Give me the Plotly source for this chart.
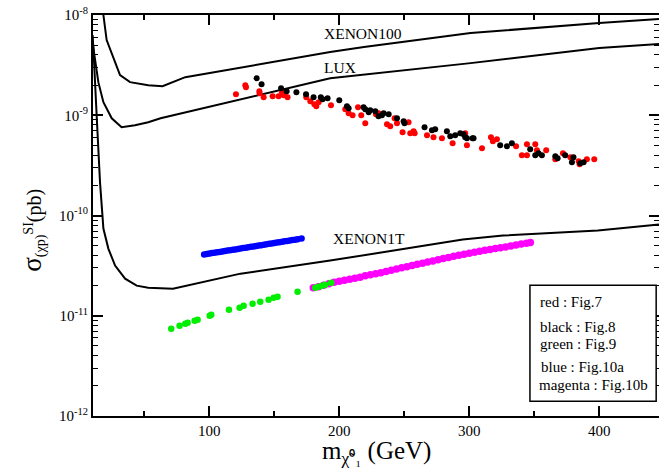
import plotly.graph_objects as go

# ---------------- data (sigma values stored as log10(pb)) ----------------
xenon100_m = [17.5, 18.5, 21.0, 31.3, 39.0, 53.0, 64.0, 81.5, 193.0, 219.0, 301.0, 400.0, 446.0]
xenon100_logs = [-7.90, -8.00, -8.25, -8.60, -8.67, -8.70, -8.71, -8.62, -8.37, -8.32, -8.18, -8.08, -8.04]

lux_m = [10.0, 10.8, 14.6, 18.5, 24.9, 32.5, 42.8, 53.0, 62.5, 193.0, 301.0, 400.0, 446.0]
lux_logs = [-8.20, -8.33, -8.67, -8.87, -9.03, -9.12, -9.10, -9.07, -9.03, -8.63, -8.48, -8.33, -8.29]

xenon1t_m = [10.0, 10.8, 13.3, 15.9, 18.5, 22.3, 27.5, 35.2, 44.1, 53.0, 72.0, 124.0, 193.0, 295.0, 326.0, 399.0, 446.0]
xenon1t_logs = [-8.20, -8.33, -9.00, -9.67, -10.13, -10.33, -10.50, -10.63, -10.70, -10.72, -10.73, -10.58, -10.45, -10.24, -10.20, -10.15, -10.09]

red_m = [120.5, 127.7, 128.2, 138.5, 138.7, 141.8, 148.7, 153.3, 155.9, 157.2, 158.0, 160.2,
         174.6, 177.7, 180.8, 182.3, 184.1, 193.6, 204.6, 207.2, 210.2, 214.4, 216.9, 220.0,
         228.2, 230.2, 236.7, 239.2, 242.6, 244.4, 248.7, 253.3, 254.6, 257.2, 258.0, 267.5,
         272.5, 279.0, 287.2, 296.9, 298.2, 309.8, 316.7, 318.2, 321.3, 336.0, 340.5, 344.4,
         344.4, 350.8, 352.1, 359.2, 366.2, 372.1, 377.8, 384.2, 384.9, 390.5, 396.2]
red_logs = [-8.79, -8.70, -8.72, -8.76, -8.78, -8.82, -8.81, -8.81, -8.77, -8.80, -8.78, -8.82,
            -8.82, -8.86, -8.89, -8.91, -8.87, -8.90, -8.94, -8.98, -9.00, -8.92, -9.00, -9.08,
            -8.99, -8.98, -9.09, -9.11, -9.03, -9.08, -9.17, -9.07, -9.18, -9.16, -9.18, -9.20,
            -9.22, -9.23, -9.28, -9.18, -9.30, -9.33, -9.22, -9.26, -9.24, -9.31, -9.40, -9.40,
            -9.29, -9.29, -9.35, -9.35, -9.44, -9.38, -9.42, -9.46, -9.49, -9.44, -9.44]

black_m = [136.4, 140.2, 155.2, 159.5, 167.0, 174.4, 180.2, 185.8, 187.2, 191.0, 200.0, 205.9,
           207.2, 218.7, 220.0, 222.6, 223.8, 227.7, 230.2, 232.8, 234.1, 238.0, 244.4, 249.5,
           250.2, 265.6, 271.3, 273.8, 282.8, 285.4, 289.2, 293.1, 295.6, 296.9, 298.2, 302.5,
           303.3, 323.8, 329.0, 332.8, 346.9, 350.8, 353.3, 355.9, 366.2, 368.0, 373.8, 380.2,
           379.0, 385.4, 388.0]
black_logs = [-8.63, -8.69, -8.73, -8.76, -8.77, -8.79, -8.82, -8.82, -8.84, -8.83, -8.85, -8.91,
              -8.93, -8.92, -8.94, -8.97, -8.95, -8.96, -9.01, -9.00, -8.98, -8.99, -9.03, -9.06,
              -9.08, -9.12, -9.15, -9.14, -9.16, -9.21, -9.20, -9.18, -9.19, -9.22, -9.23, -9.23,
              -9.23, -9.30, -9.31, -9.28, -9.34, -9.40, -9.38, -9.40, -9.41, -9.43, -9.40, -9.42,
              -9.47, -9.48, -9.47]

green_m = [70.7, 77.1, 81.5, 83.3, 88.7, 91.0, 100.3, 101.5, 115.1, 123.3, 126.4, 133.3,
           139.2, 145.6, 149.5, 152.5, 167.9, 181.5, 184.1, 186.7, 189.2, 193.8]
green_logs = [-11.13, -11.10, -11.08, -11.07, -11.05, -11.04, -11.00, -10.99, -10.94, -10.92, -10.90, -10.88,
              -10.86, -10.84, -10.82, -10.81, -10.76, -10.72, -10.71, -10.70, -10.69, -10.67]

blue_m = [96, 98, 100, 102, 104, 106, 108, 110, 112, 114, 116, 118, 120, 122, 124, 126, 128, 130,
          132, 134, 136, 138, 140, 142, 144, 146, 148, 150, 152, 154, 156, 158, 160, 162, 164, 166,
          168, 171]
blue_logs = [-10.388, -10.384, -10.380, -10.375, -10.371, -10.367, -10.363, -10.358, -10.354, -10.350,
             -10.346, -10.342, -10.338, -10.333, -10.329, -10.325, -10.321, -10.316, -10.312, -10.308,
             -10.304, -10.300, -10.296, -10.291, -10.287, -10.283, -10.279, -10.274, -10.270, -10.266,
             -10.262, -10.258, -10.254, -10.249, -10.245, -10.241, -10.237, -10.230]

magenta_m = [180, 184, 188, 192, 196, 200, 204, 208, 212, 216, 220, 224, 228, 232, 236, 240, 244,
             248, 252, 256, 260, 264, 268, 272, 276, 280, 284, 288, 292, 296, 300, 304, 308, 312,
             316, 320, 324, 328, 332, 336, 340, 344, 347]
magenta_logs = [-10.720, -10.710, -10.695, -10.680, -10.665, -10.655, -10.645, -10.635, -10.625, -10.615,
                -10.600, -10.590, -10.580, -10.570, -10.558, -10.546, -10.534, -10.522, -10.510, -10.498,
                -10.487, -10.476, -10.465, -10.453, -10.442, -10.430, -10.418, -10.407, -10.397, -10.387,
                -10.377, -10.367, -10.357, -10.347, -10.338, -10.330, -10.321, -10.313, -10.303, -10.294,
                -10.285, -10.277, -10.270]

x_tick_vals = [100, 200, 300, 400]
x_minor_vals = [50, 150, 250, 350]
y_tick_vals = [1e-12, 1e-11, 1e-10, 1e-9, 1e-8]
y_tick_text = ["10<sup>-12</sup>", "10<sup>-11</sup>", "10<sup>-10</sup>", "10<sup>-9</sup>", "10<sup>-8</sup>"]
y_minor_mantissas = [2, 3, 4, 5, 6, 7, 8, 9]

legend_lines = ["red : Fig.7", "black : Fig.8", "green : Fig.9", "blue : Fig.10a", "magenta : Fig.10b"]
curve_labels = ["XENON100", "LUX", "XENON1T"]
x_title = "m<sub>χ̃⁰₁</sub> (GeV)"
y_title = "<span style='font-size:27px'>σ</span><sub>(χp)</sub><sup>SI</sup>(pb)"


def pb(logs):
    return [10 ** v for v in logs]


FONT = "Liberation Serif, Times New Roman, serif"

fig = go.Figure()

for m, logs in [(xenon100_m, xenon100_logs), (lux_m, lux_logs), (xenon1t_m, xenon1t_logs)]:
    fig.add_trace(go.Scatter(x=m, y=pb(logs), mode="lines",
                             line=dict(color="black", width=2), showlegend=False, hoverinfo="skip"))

fig.add_trace(go.Scatter(x=blue_m, y=pb(blue_logs), mode="markers",
                         marker=dict(color="#0000ff", size=6.5), showlegend=False))
fig.add_trace(go.Scatter(x=magenta_m, y=pb(magenta_logs), mode="markers",
                         marker=dict(color="#ff00ff", size=7.5), showlegend=False))
fig.add_trace(go.Scatter(x=green_m, y=pb(green_logs), mode="markers",
                         marker=dict(color="#00ee00", size=6.5), showlegend=False))
fig.add_trace(go.Scatter(x=red_m, y=pb(red_logs), mode="markers",
                         marker=dict(color="#ff0000", size=6), showlegend=False))
fig.add_trace(go.Scatter(x=black_m, y=pb(black_logs), mode="markers",
                         marker=dict(color="black", size=6), showlegend=False))

y_minor_vals = [mnt * 10 ** e for e in range(-12, -8) for mnt in y_minor_mantissas]

fig.update_layout(
    width=659, height=468,
    margin=dict(l=93, r=0, t=15, b=52),
    paper_bgcolor="white", plot_bgcolor="white",
    font=dict(family=FONT, color="black", size=15),
    xaxis=dict(
        range=[10.5, 446], showgrid=False, zeroline=False, automargin=False,
        showline=True, linecolor="black", linewidth=2, mirror="ticks",
        ticks="inside", ticklen=10, tickwidth=1.5, tickcolor="black",
        tickmode="array", tickvals=x_tick_vals, ticktext=[str(v) for v in x_tick_vals],
        tickfont=dict(size=15, family=FONT), ticklabeloverflow="allow",
        minor=dict(tickmode="array", tickvals=x_minor_vals, ticks="inside", ticklen=5,
                   tickwidth=1.5, tickcolor="black", showgrid=False),
    ),
    yaxis=dict(
        type="log", range=[-12, -8], showgrid=False, zeroline=False, automargin=False,
        showline=True, linecolor="black", linewidth=2, mirror="ticks",
        ticks="inside", ticklen=10, tickwidth=1.5, tickcolor="black",
        tickmode="array", tickvals=y_tick_vals, ticktext=y_tick_text,
        tickfont=dict(size=15, family=FONT), ticklabeloverflow="allow",
        minor=dict(tickmode="array", tickvals=y_minor_vals, ticks="inside", ticklen=5,
                   tickwidth=1.2, tickcolor="black", showgrid=False),
    ),
)

# axis titles
fig.add_annotation(text=x_title, xref="paper", yref="paper", x=0.50, y=-0.092,
                   xanchor="center", yanchor="middle", showarrow=False,
                   font=dict(size=25, family=FONT, color="black"))
fig.add_annotation(text=y_title, xref="paper", yref="paper", x=-0.106, y=0.462,
                   xanchor="center", yanchor="middle", showarrow=False, textangle=-90,
                   font=dict(size=20, family=FONT, color="black"))

# curve labels
label_pos = [(0.404, 0.955), (0.405, 0.868), (0.420, 0.443)]
for txt, (px, py) in zip(curve_labels, label_pos):
    fig.add_annotation(text=txt, xref="paper", yref="paper", x=px, y=py,
                       xanchor="left", yanchor="middle", showarrow=False,
                       font=dict(size=15.5, family=FONT, color="black"))

# legend box
fig.add_shape(type="rect", xref="paper", yref="paper", x0=0.772, x1=0.995, y0=0.037, y1=0.326,
              line=dict(color="black", width=1.5), fillcolor="white", layer="above")
legend_y = [0.284, 0.221, 0.179, 0.122, 0.077]
legend_x = [0.786, 0.786, 0.786, 0.788, 0.784]
for txt, lx, ly in zip(legend_lines, legend_x, legend_y):
    fig.add_annotation(text=txt, xref="paper", yref="paper", x=lx, y=ly,
                       xanchor="left", yanchor="middle", showarrow=False,
                       font=dict(size=15, family=FONT, color="black"))

fig.write_html("out.html", config={"displayModeBar": False},
               post_script="document.body.style.margin='0px';document.body.style.overflow='hidden';")
